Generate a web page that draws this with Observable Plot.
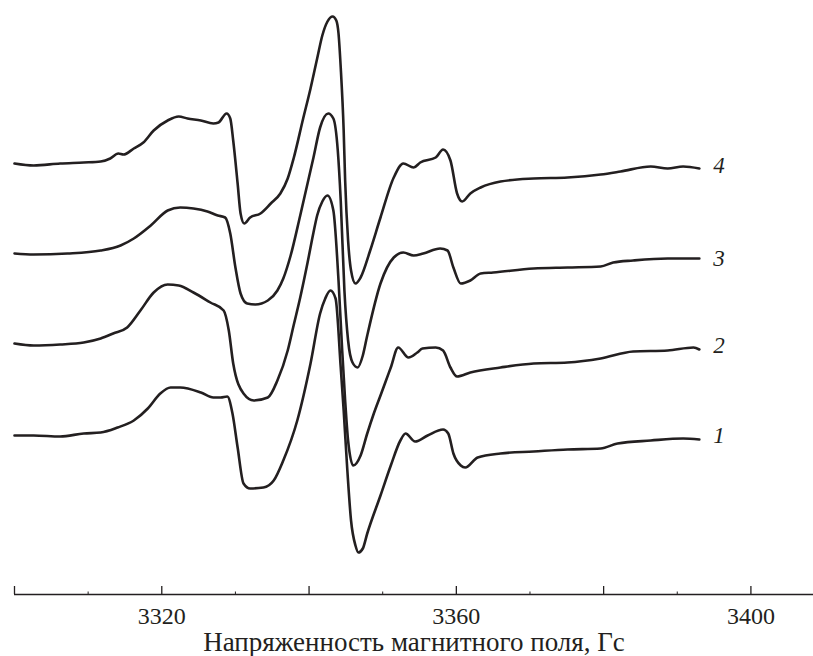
<!DOCTYPE html>
<html>
<head>
<meta charset="utf-8">
<script src="https://cdn.jsdelivr.net/npm/d3@7"></script>
<script src="https://cdn.jsdelivr.net/npm/@observablehq/plot@0.6"></script>
<style>
  html, body { margin: 0; padding: 0; background: #fff; }
  #chart { width: 813px; height: 656px; overflow: hidden; }
</style>
</head>
<body>
<div id="chart"></div>
<script>
// ESR spectra: [magnetic field (Gs), signal (a.u., relative to own baseline)]
const spectrum1 = [[3300.0,-1],[3302.6,-1],[3306.2,-2],[3309.4,1],[3311.7,2],[3314.0,7],[3316.2,14],[3318.1,26],[3319.8,41],[3321.2,47],[3322.5,47],[3325.3,42],[3327.0,37],[3328.0,37],[3328.9,38],[3329.6,21],[3330.3,-13],[3331.1,-49],[3332.0,-54],[3333.8,-53],[3335.2,-46],[3336.5,-26],[3338.4,14],[3340.2,71],[3341.5,121],[3342.2,136],[3342.9,144],[3343.6,136],[3344.3,67],[3344.7,24],[3345.2,-36],[3345.7,-86],[3346.3,-111],[3346.7,-118],[3347.3,-114],[3347.9,-99],[3349.7,-61],[3351.1,-31],[3352.4,-6],[3353.1,1],[3354.4,-7],[3356.1,-1],[3358.2,5],[3358.9,1],[3359.6,-19],[3360.6,-31],[3361.2,-33],[3362.9,-23],[3366.0,-19],[3370.5,-17],[3375.1,-15],[3379.6,-14],[3381.9,-9],[3386.4,-6],[3390.8,-4],[3393.0,-5]];
const spectrum2 = [[3300.0,1],[3302.6,-1],[3306.2,0],[3309.4,2],[3311.7,6],[3313.4,11],[3315.3,17],[3317.1,34],[3318.9,52],[3320.8,60],[3322.3,59],[3324.3,52],[3326.6,42],[3328.4,34],[3329.1,14],[3329.7,-19],[3331.1,-49],[3332.5,-56],[3334.4,-53],[3335.7,-36],[3337.1,-6],[3337.9,19],[3338.8,47],[3339.8,82],[3340.6,112],[3341.1,129],[3341.8,143],[3342.5,149],[3343.3,134],[3344.0,64],[3344.5,-6],[3344.9,-56],[3345.3,-96],[3346.0,-121],[3347.0,-111],[3347.9,-89],[3348.7,-71],[3349.7,-51],[3350.4,-37],[3351.1,-23],[3352.1,-3],[3353.5,-13],[3354.7,-8],[3355.4,-4],[3357.2,-3],[3358.2,-6],[3359.2,-23],[3360.1,-32],[3361.9,-28],[3366.0,-23],[3370.5,-19],[3375.1,-18],[3379.6,-14],[3384.0,-7],[3388.7,-6],[3392.2,-3],[3393.0,-5]];
const spectrum3 = [[3300.0,1],[3302.6,0],[3307.2,1],[3311.7,4],[3314.4,9],[3316.2,16],[3318.5,29],[3320.8,44],[3322.5,47],[3324.3,46],[3326.2,43],[3327.6,39],[3328.6,37],[3329.3,21],[3330.0,-13],[3330.7,-39],[3331.6,-49],[3332.7,-50],[3334.4,-46],[3335.7,-36],[3336.5,-24],[3337.5,-1],[3338.8,39],[3340.6,97],[3341.5,127],[3342.6,141],[3343.3,136],[3343.9,104],[3344.3,54],[3344.8,-36],[3345.3,-86],[3345.9,-108],[3346.6,-113],[3347.3,-101],[3347.9,-81],[3349.7,-29],[3351.5,-3],[3352.8,2],[3354.2,-1],[3355.5,1],[3357.8,6],[3358.8,4],[3359.6,-13],[3360.6,-29],[3361.9,-26],[3363.3,-19],[3365.0,-18],[3370.5,-14],[3375.1,-13],[3379.6,-12],[3381.3,-8],[3384.0,-6],[3388.7,-4],[3393.0,-4]];
const spectrum4 = [[3300.0,1],[3302.6,-1],[3306.2,1],[3309.4,2],[3311.7,3],[3313.0,6],[3314.1,11],[3314.8,10],[3316.2,16],[3317.5,22],[3318.9,34],[3320.8,44],[3322.3,48],[3323.5,46],[3325.3,44],[3327.0,41],[3327.7,42],[3328.8,51],[3329.3,46],[3329.7,24],[3330.3,-19],[3330.7,-49],[3331.2,-59],[3332.0,-53],[3333.4,-49],[3334.8,-39],[3336.1,-29],[3337.1,-14],[3337.9,6],[3339.2,46],[3340.2,76],[3341.1,106],[3341.8,129],[3342.5,143],[3343.2,148],[3343.7,144],[3344.0,131],[3344.3,97],[3344.7,34],[3344.9,-16],[3345.3,-76],[3345.7,-106],[3346.3,-119],[3347.0,-113],[3348.3,-86],[3349.7,-53],[3351.5,-13],[3352.8,1],[3354.2,-3],[3355.1,2],[3357.2,7],[3358.2,15],[3359.2,4],[3360.1,-29],[3360.8,-37],[3361.9,-29],[3363.3,-23],[3366.0,-17],[3370.5,-14],[3375.1,-13],[3379.6,-10],[3382.3,-7],[3386.4,-2],[3388.7,-4],[3390.8,-2],[3393.0,-4]];

const spectra = [spectrum1, spectrum2, spectrum3, spectrum4];
const curveNames = ["1", "2", "3", "4"];
const offsets = [160, 250, 340, 430];        // vertical stacking of spectra (a.u.)
const labelY = [159, 249, 336, 429];          // curve-number label heights (a.u.)
const labelX = 3394.9;                        // field at which curve numbers start

const majorTicks = [3300, 3320, 3340, 3360, 3380, 3400];
const minorTicks = [3310, 3330, 3350, 3370, 3390];
const tickLabels = [3320, 3360, 3400];
const xLabel = "Напряженность магнитного поля, Гс";

const ink = "#231f20";
const serif = "'Liberation Serif', 'Times New Roman', 'DejaVu Serif', serif";

const rows = spectra.flatMap((s, i) => s.map(([B, v]) => ({B, I: v + offsets[i], curve: curveNames[i]})));
const labels = curveNames.map((c, i) => ({c, x: labelX, y: labelY[i]}));

const chart = Plot.plot({
  width: 813,
  height: 656,
  marginLeft: 14,
  marginRight: 0,
  marginTop: 0,
  marginBottom: 62,
  style: {fontFamily: serif, fontSize: "24px", color: ink, background: "#fff"},
  x: {domain: [3300, 3408.5]},
  y: {domain: [0, 594], axis: null},
  marks: [
    Plot.ruleY([0], {stroke: ink, strokeWidth: 1.3}),
    Plot.ruleX(majorTicks, {y1: 0, y2: 8, stroke: ink, strokeWidth: 1.3}),
    Plot.ruleX(minorTicks, {y1: 0, y2: 2.5, stroke: ink, strokeWidth: 1}),
    Plot.axisX(tickLabels, {
      tickSize: 0,
      tickPadding: 12,
      tickFormat: d => String(d),
      fontSize: 24,
      fontFamily: serif,
      fill: ink,
      label: null
    }),
    Plot.axisX([], {
      tickSize: 0,
      fontSize: 27,
      fontFamily: serif,
      fill: ink,
      label: xLabel,
      labelAnchor: "center",
      labelArrow: "none",
      labelOffset: 56
    }),
    Plot.line(rows, {x: "B", y: "I", z: "curve", stroke: ink, strokeWidth: 2.6, curve: "monotone-x", strokeLinejoin: "round"}),
    Plot.text(labels, {x: "x", y: "y", text: "c", textAnchor: "start", fontStyle: "italic", fontSize: 23, fontFamily: serif, fill: ink})
  ]
});
document.getElementById("chart").append(chart);
</script>
</body>
</html>
